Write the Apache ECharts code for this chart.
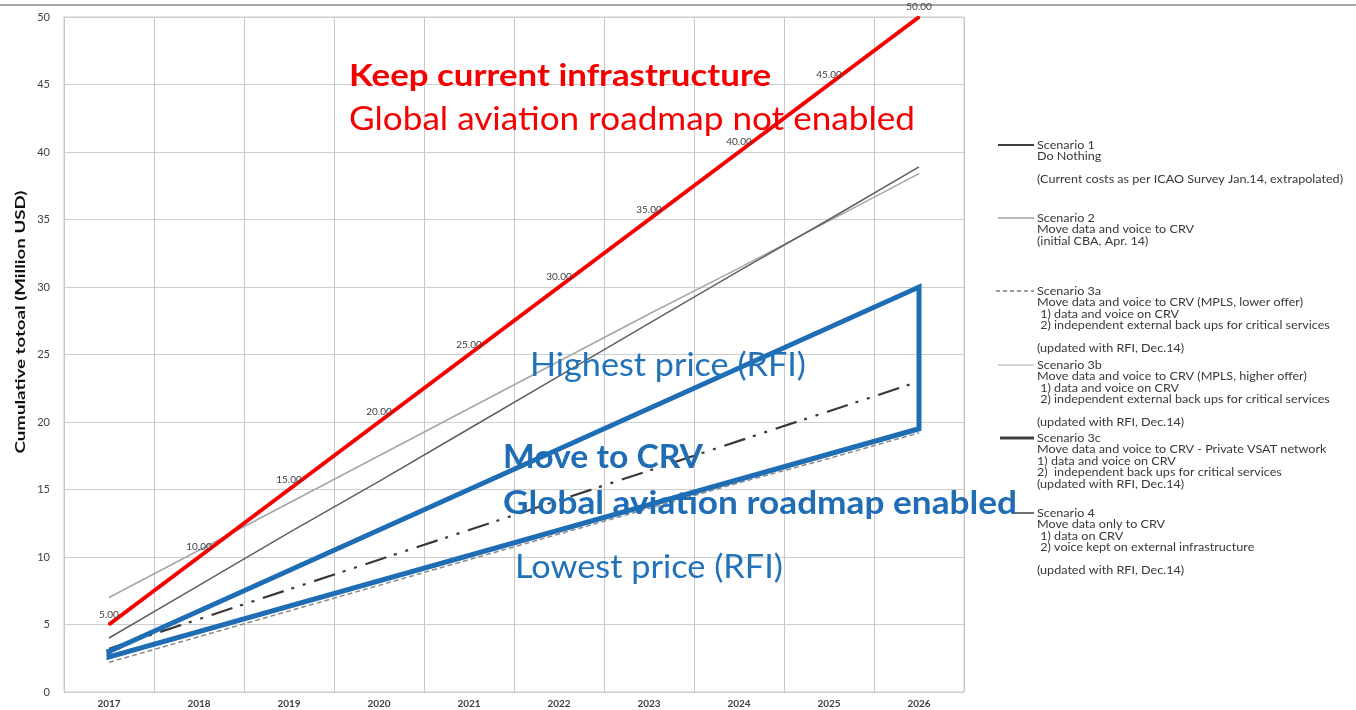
<!DOCTYPE html>
<html>
<head>
<meta charset="utf-8">
<title>Cumulative total cost scenarios</title>
<script src="https://cdn.jsdelivr.net/npm/echarts@6/dist/echarts.min.js"></script>
<style>
    html, body { margin: 0; padding: 0; background: #fff; }
    #chart { width: 1356px; height: 710px; }
</style>
</head>
<body>
<div id="chart"></div>
<script>
// years on the x axis
var years = ['2017', '2018', '2019', '2020', '2021', '2022', '2023', '2024', '2025', '2026'];

// cumulative totals (Million USD)
var keepCurrent = [5, 10, 15, 20, 25, 30, 35, 40, 45, 50];
var scenario1 = [4.0, 7.9, 11.8, 15.6, 19.5, 23.4, 27.3, 31.2, 35.0, 38.9];
var scenario2 = [7.0, 10.5, 14.0, 17.5, 21.0, 24.5, 28.0, 31.4, 34.9, 38.4];
var scenario3a = [2.2, 4.1, 6.0, 7.9, 9.8, 11.7, 13.6, 15.5, 17.3, 19.2];
var scenario3b = [3.0, 6.0, 9.0, 12.0, 15.0, 18.0, 21.0, 24.0, 27.0, 30.0];
var scenario3c = [3.2, 5.4, 7.6, 9.8, 12.0, 14.2, 16.4, 18.6, 20.8, 23.0];
var scenario4 = [2.6, 4.5, 6.4, 8.3, 10.2, 12.0, 13.9, 15.8, 17.7, 19.5];

// y axis ticks
var yMin = 0, yMax = 50, yStep = 5;

// legend texts on the right
var legend1 = ['Scenario 1', 'Do Nothing', '', '(Current costs as per ICAO Survey Jan.14, extrapolated)'];
var legend2 = ['Scenario 2', 'Move data and voice to CRV', '(initial CBA, Apr. 14)'];
var legend3a = ['Scenario 3a', 'Move data and voice to CRV (MPLS, lower offer)', ' 1) data and voice on CRV',
    ' 2) independent external back ups for critical services', '', '(updated with RFI, Dec.14)'];
var legend3b = ['Scenario 3b', 'Move data and voice to CRV (MPLS, higher offer)', ' 1) data and voice on CRV',
    ' 2) independent external back ups for critical services', '', '(updated with RFI, Dec.14)'];
var legend3c = ['Scenario 3c', 'Move data and voice to CRV - Private VSAT network', '1) data and voice on CRV',
    '2)  independent back ups for critical services', '(updated with RFI, Dec.14)'];
var legend4 = ['Scenario 4', 'Move data only to CRV', ' 1) data on CRV', ' 2) voice kept on external infrastructure',
    '', '(updated with RFI, Dec.14)'];

var RED = '#f50000';
var BLUE = '#1f6db4';
var TEXT_BLUE = '#2272b9';

// measure text so the texts can be stretched to the width they have in the picture
var measureCtx = document.createElement('canvas').getContext('2d');
function fitScale(text, font, width) {
    measureCtx.font = font;
    return width / measureCtx.measureText(text).width;
}

function note(text, x, y, width, size, bold, color) {
    var font = (bold ? 'bold ' : '') + size + 'px Lato';
    return {
        type: 'text', x: x, y: y, z: 20,
        scaleX: fitScale(text, font, width),
        style: {text: text, font: font, fill: color, align: 'left', verticalAlign: 'middle'}
    };
}

var legendFont = '12px Lato';
var legendScale = fitScale(legend1[3], legendFont, 306);

function legendEntry(lines, y, sample) {
    return [
        {type: 'line', z: 5, shape: {x1: sample.x1, y1: y, x2: 1034, y2: y},
            style: {stroke: sample.color, lineWidth: sample.width, lineDash: sample.dash || null}},
        {type: 'text', x: 1037, y: y - 5.75, z: 5, scaleX: legendScale,
            style: {text: lines.join('\n'), font: legendFont, fill: '#383838', lineHeight: 11.5, verticalAlign: 'top'}}
    ];
}

var yTitle = 'Cumulative totoal (Million USD)';
var yTitleFont = 'bold 14px Lato';

var graphics = [
    {type: 'line', shape: {x1: 0, y1: 5, x2: 1356, y2: 5}, style: {stroke: '#8c8c8c', lineWidth: 1.5}},
    {
        type: 'text', x: 20, y: 322, rotation: Math.PI / 2,
        scaleX: fitScale(yTitle, yTitleFont, 263),
        style: {text: yTitle, font: yTitleFont, fill: '#111', align: 'center', verticalAlign: 'middle'}
    },
    note('Keep current infrastructure', 349, 76, 422, 30, true, RED),
    note('Global aviation roadmap not enabled', 349, 120, 566, 32, false, RED),
    note('Highest price (RFI)', 530, 365, 276, 33, false, TEXT_BLUE),
    note('Move to CRV', 503, 458, 200, 32, true, BLUE),
    note('Global aviation roadmap enabled', 503, 504, 514, 32, true, BLUE),
    note('Lowest price (RFI)', 515, 568, 268, 32, false, TEXT_BLUE)
];
graphics = graphics
    .concat(legendEntry(legend1, 145, {x1: 998, color: '#404040', width: 2}))
    .concat(legendEntry(legend2, 218, {x1: 998, color: '#a0a0a0', width: 1.5}))
    .concat(legendEntry(legend3a, 291, {x1: 996, color: '#808080', width: 1.5, dash: [4, 3]}))
    .concat(legendEntry(legend3b, 365, {x1: 998, color: '#a8a8a8', width: 1}))
    .concat(legendEntry(legend3c, 438, {x1: 1000, color: '#404040', width: 3}))
    .concat(legendEntry(legend4, 513, {x1: 1012, color: '#404040', width: 1.5}));

// the blue frame drawn between the highest and lowest RFI price
var last = years.length - 1;
var rfiFrame = [
    [years[0], scenario3b[0]],
    [years[last], scenario3b[last]],
    [years[last], scenario4[last]],
    [years[0], scenario4[0]],
    [years[0], scenario3b[0]]
];

function plainLine(name, data, color, width, type, z) {
    return {
        name: name, type: 'line', data: data, symbol: 'none', z: z || 2,
        lineStyle: {color: color, width: width, type: type || 'solid'},
        emphasis: {disabled: true}
    };
}

var option = {
    animation: false,
    backgroundColor: '#fff',
    textStyle: {fontFamily: 'Lato'},
    grid: {
        left: 64, right: 392, top: 17, bottom: 18,
        show: true, borderColor: '#cdcdcd', borderWidth: 1
    },
    xAxis: {
        type: 'category',
        data: years,
        boundaryGap: true,
        axisLine: {show: false},
        axisTick: {show: false},
        axisLabel: {color: '#404040', fontSize: 10, fontWeight: 'bold', margin: 7},
        splitLine: {show: true, lineStyle: {color: '#c8c8c8', width: 1}}
    },
    yAxis: {
        type: 'value',
        min: yMin, max: yMax, interval: yStep,
        axisLine: {show: false},
        axisTick: {show: false},
        axisLabel: {color: '#404040', fontSize: 11, margin: 14},
        splitLine: {show: true, lineStyle: {color: '#cdcdcd', width: 1}}
    },
    graphic: graphics,
    series: [
        plainLine('Scenario 2', scenario2, '#a6a6a6', 1.5),
        plainLine('Scenario 1', scenario1, '#5f5f5f', 1.5),
        plainLine('Scenario 3b', scenario3b, '#bdbdbd', 1.5),
        plainLine('Scenario 3a', scenario3a, '#8a8a8a', 1.5, [5, 3]),
        plainLine('Scenario 4', scenario4, '#404040', 1.5),
        plainLine('Scenario 3c', scenario3c, '#383838', 2.2, [22, 8, 3, 9, 3, 9]),
        {
            name: 'RFI range', type: 'line', data: rfiFrame, symbol: 'none', z: 4,
            lineStyle: {color: BLUE, width: 5, join: 'miter', cap: 'square'},
            emphasis: {disabled: true}
        },
        {
            name: 'Keep current infrastructure', type: 'line', data: keepCurrent, z: 6,
            symbol: 'circle', symbolSize: 2, showSymbol: true, showAllSymbol: true,
            itemStyle: {color: RED},
            lineStyle: {color: RED, width: 4},
            label: {
                show: true, position: 'top', distance: 4,
                color: '#404040', fontSize: 10,
                formatter: function (p) { return p.value.toFixed(2); }
            },
            emphasis: {disabled: true}
        }
    ]
};

var chart = echarts.init(document.getElementById('chart'));
chart.setOption(option);
</script>
</body>
</html>
